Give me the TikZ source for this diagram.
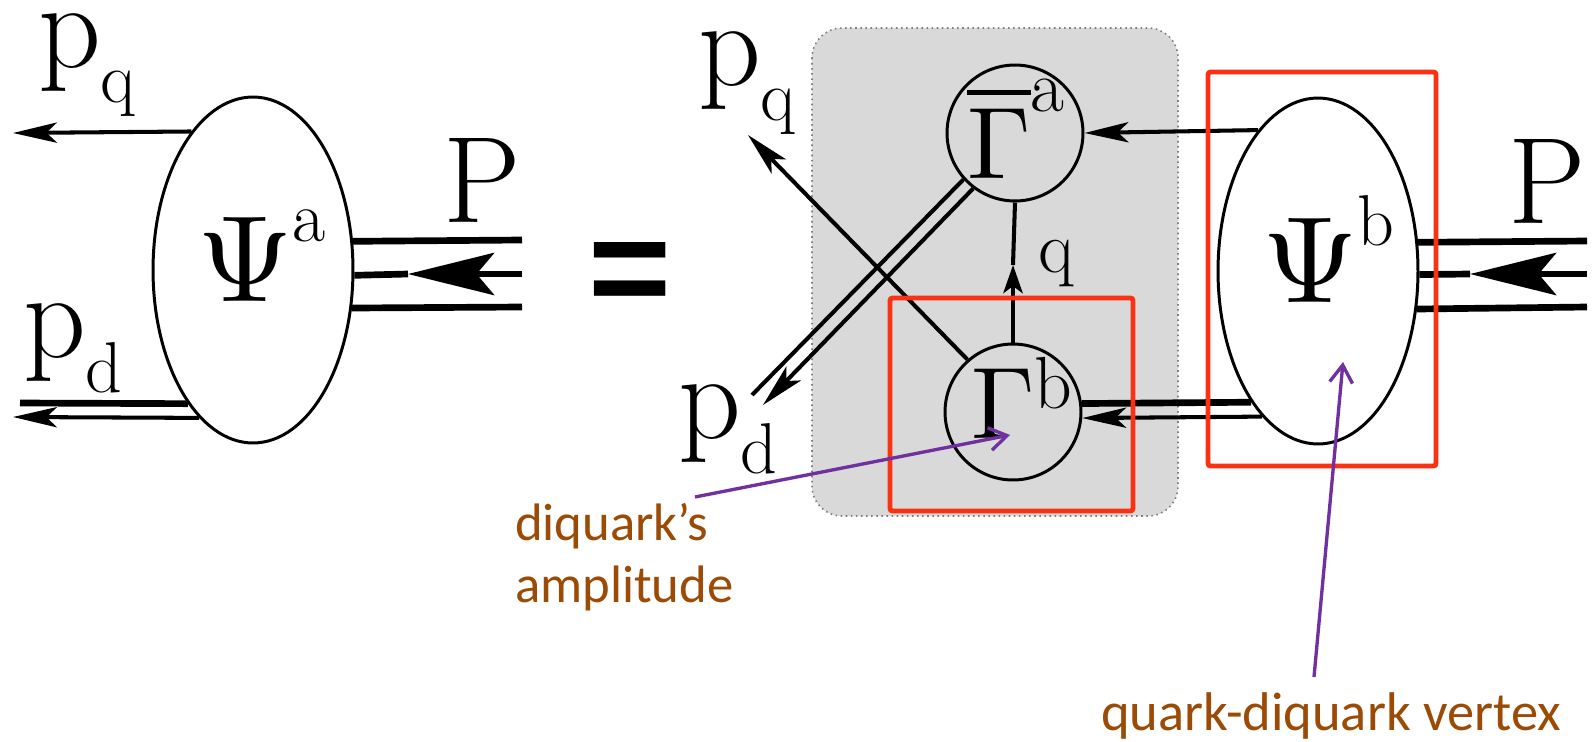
\documentclass[tikz,border=0pt]{standalone}
\usepackage{fontspec}
\usepackage{unicode-math}
\setmathfont{Latin Modern Math}
\newfontfamily\calib{Carlito}
\newfontfamily\arialfam{Liberation Sans}
\usetikzlibrary{arrows.meta,shapes.geometric}
\definecolor{brownlbl}{RGB}{155,75,5}
\definecolor{purplearr}{RGB}{112,48,160}
\definecolor{redbox}{RGB}{250,50,20}
\definecolor{grayfill}{RGB}{217,217,217}
\newcommand\bigsz{\fontsize{70}{70}\selectfont}
\newcommand\subsz{\fontsize{41}{41}\selectfont}
\newcommand\gamsz{\fontsize{58}{58}\selectfont}
\newcommand\gsupsz{\fontsize{42}{42}\selectfont}
\newcommand\mom[2]{{\bigsz #1}\raisebox{-20.4pt}{\subsz #2}}
\newcommand\gambar{\vbox{\hrule height 2.8pt\kern 8pt\hbox{\gamsz$\Gamma$}}}
\tikzset{
  txt/.style={inner sep=0pt, outer sep=0pt, anchor=base west},
  thinln/.style={line width=2.3pt},
  thickln/.style={line width=3.8pt},
  arr/.style={-{Stealth[length=25pt,width=11.5pt,inset=6pt]}},
  bigarr/.style={-{Stealth[length=49pt,width=24pt,inset=10pt]}},
  qarr/.style={-{Stealth[length=16pt,width=11pt,inset=4pt]}},
  wf/.style={ellipse, draw, line width=1.7pt, minimum width=4cm, minimum height=6.92cm, inner sep=0pt},
  vtx/.style={circle, draw, line width=1.7pt, minimum size=2.72cm, inner sep=0pt},
  redframe/.style={draw=redbox, line width=2.8pt, rounded corners=1.5pt},
  callout/.style={draw=purplearr, line width=1.9pt, -{Straight Barb[length=10pt,width=13pt]}},
  note/.style={text=brownlbl, inner sep=0pt, outer sep=0pt},
}
\begin{document}
\begin{tikzpicture}[x=0.02cm, y=-0.02cm]
\useasboundingbox (0,0) rectangle (1595,741);
\fill[white] (0,0) rectangle (1595,741);

% grey background block
\draw[fill=grayfill, draw=gray, dotted, line width=0.9pt, rounded corners=17pt] (812,28) rectangle (1178,516);

% shapes
\node[wf] (psia) at (253,270) {};
\node[wf] (psib) at (1318,271) {};
\node[vtx] (ga) at (1015,133) {};
\node[vtx] (gb) at (1013,412) {};

% free ends
\coordinate (pqL) at (13,133);
\coordinate (pdLa) at (20,403);
\coordinate (pdLb) at (13,417);
\coordinate (tla) at (522,240);
\coordinate (tlb) at (522,274);
\coordinate (tlc) at (522,307);
\coordinate (tltip) at (408,274);
\coordinate (tra) at (1587,241);
\coordinate (trb) at (1587,274);
\coordinate (trc) at (1587,307);
\coordinate (trtip) at (1470,274);
\coordinate (qtip) at (1013,265);
\coordinate (pqR) at (748,135);
\coordinate (pdRa) at (752,395);
\coordinate (pdRb) at (763,405);

% left diagram lines
\draw[thinln, arr] (psia.114) -- (pqL);
\draw[thickln] (psia.244.3) -- (pdLa);
\draw[thinln, arr] (psia.250.2) -- (pdLb);
\draw[thickln] (psia.16.9) -- (tla);
\draw[thickln] (psia.339.3) -- (tlc);
\draw[thickln, bigarr] (tlb) -- (tltip);
\draw[thickln] (tltip) -- (psia.357.7);

% right diagram lines
\draw[thickln] (psib.16.9) -- (tra);
\draw[thickln] (psib.339.7) -- (trc);
\draw[thickln, bigarr] (trb) -- (trtip);
\draw[thickln] (trtip) -- (psib.358.3);
\draw[thinln, arr] (psib.113.6) -- (ga.east);
\draw[thickln] (psib.243.9) -- (gb.7.6);
\draw[thinln, arr] (psib.249.8) -- (gb.355.8);
\draw[thinln, qarr] (gb.north) -- (qtip);
\draw[thinln] (qtip) -- (ga.south);
\draw[thinln, arr] (gb.131) -- (pqR);
\draw[thinln] (ga.222) -- (pdRa);
\draw[thinln, arr] (ga.233) -- (pdRb);

% texts
\node[txt] (tpqL) at (38,67) {\mom{p}{q}};
\node[txt] (tpdL) at (23,357) {\mom{p}{d}};
\node[txt] (tPL) at (443,222) {\bigsz P};
\node[txt] (tpsia) at (197,301) {{\bigsz$\Psi$}\raisebox{34pt}{\subsz a}};
\node[inner sep=0pt, font=\arialfam\bfseries\fontsize{81}{81}\selectfont] (eq) at (630,279) {=};
\node[txt] (tpqR) at (698,85) {\mom{p}{q}};
\node[txt] (tpdR) at (678,438) {\mom{p}{d}};
\node[txt] (tga) at (967,178) {\gambar\raisebox{38pt}{\gsupsz a}};
\node[txt] (tgb) at (971,438) {{\gamsz$\Gamma$}\raisebox{17pt}{\gsupsz b}};
\node[txt] (tq) at (1038,272) {\fontsize{42}{42}\selectfont q};
\node[txt] (tpsib) at (1262,302) {{\bigsz$\Psi$}\raisebox{32pt}{\subsz b}};
\node[txt] (tPR) at (1508,223) {\bigsz P};

% red highlight frames
\draw[redframe] (890,298) rectangle (1133,511);
\draw[redframe] (1208,72) rectangle (1436,466);

% callouts
\node[note, anchor=north west, align=left, font=\calib\fontsize{30}{35.7}\selectfont] (lab1) at (515,503) {diquark’s\\amplitude};
\node[note, anchor=base west, font=\calib\fontsize{31}{31}\selectfont] (lab2) at (1101,730) {quark-diquark vertex};
\coordinate (a1s) at (695,497);
\coordinate (a1e) at (1010,435);
\coordinate (a2s) at (1314,677);
\coordinate (a2e) at (1343,362);
\draw[callout] (a1s) -- (a1e);
\draw[callout] (a2s) -- (a2e);
\end{tikzpicture}
\end{document}
